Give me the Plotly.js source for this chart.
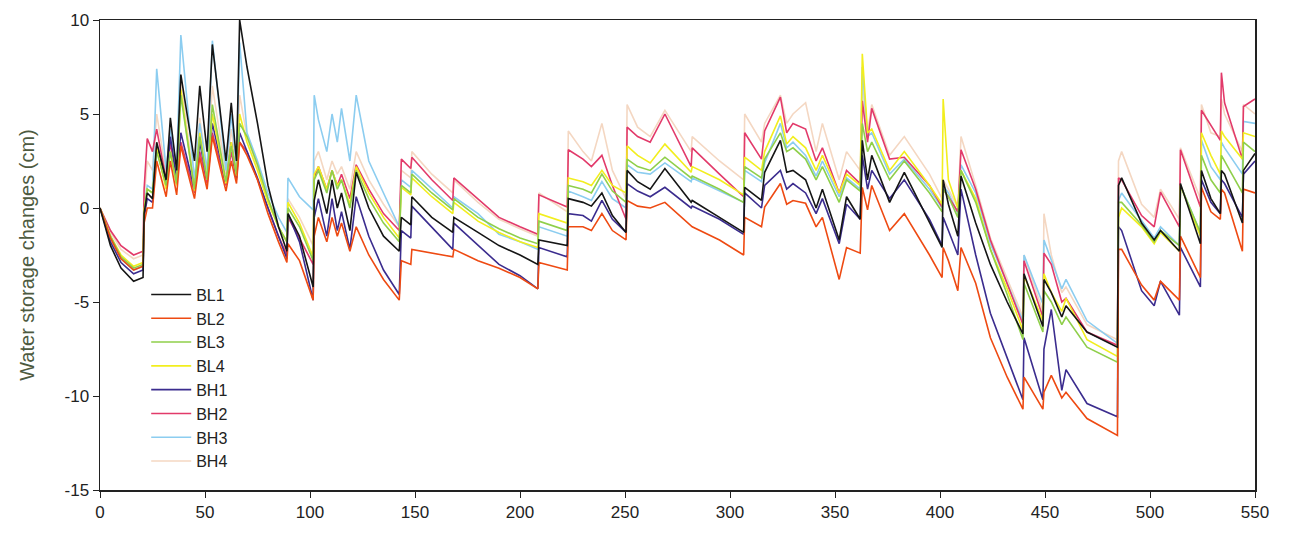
<!DOCTYPE html>
<html>
<head>
<meta charset="utf-8">
<script src="https://cdn.plot.ly/plotly-3.0.1.min.js"></script>
<style>html,body{margin:0;padding:0;background:#fff;}#chart{width:1290px;height:539px;}</style>
</head>
<body>
<div id="chart"></div>
<script>
// Day of observation
const days = [
  0, 5, 10, 16, 20.5,
  21, 22.5, 25, 27, 31.5, 33.5, 36.5, 38.5, 45, 47.5, 51, 53.5, 60, 62.5, 65, 66.5, 70, 75, 80, 85, 89,
  89.5, 95, 101.5, 102, 104, 108, 110.5, 113, 115, 119, 122, 128, 135, 142.5,
  143.5, 148, 148.5, 158, 168, 168.5, 180, 190, 200, 208.5,
  209, 222.5, 223, 230, 234, 239, 244, 250.5, 251, 256, 262, 269, 281.5, 282, 295, 306.5,
  307, 315, 316.5, 324, 327, 330, 336, 341, 344, 352, 355.5, 362, 363, 365.5, 367.5, 376, 383, 395, 401, 401.5,
  404, 408.5, 410, 417, 424, 432, 439.5, 440, 449, 449.5, 453, 458, 460, 470, 484.5,
  485, 486.5, 496, 502, 505, 514, 514.5, 524, 524.5, 529, 533.5, 534, 535.5, 544, 544.5, 550
];

// Water storage changes (cm)
const BL1 = [
  0, -2.0, -3.2, -3.9, -3.7,
  -0.3, 0.8, 0.5, 3.5, 1.5, 4.8, 2.0, 7.1, 2.5, 6.5, 3.0, 8.7, 2.5, 5.6, 2.5, 10.0, 7.5, 4.5, 1.2, -1.0, -2.3,
  -0.3, -1.5, -4.2, 0.4, 1.5, -0.3, 1.5, 0.0, 0.8, -1.2, 1.9, 0.0, -1.5, -2.3,
  -0.5, -0.9, 0.6, -0.5, -1.3, -0.5, -1.3, -2.0, -2.5, -3.0,
  -1.7, -2.0, 0.5, 0.3, 0.1, 0.8, -0.4, -1.3, 2.0, 1.4, 1.0, 2.1, 0.3, 0.4, -0.5, -1.3,
  1.1, 0.4, 1.9, 3.6, 1.9, 2.0, 1.5, 0.0, 1.0, -1.7, 0.6, -0.6, 3.6, 1.5, 2.8, 0.3, 1.9, -0.8, -2.1, 1.5,
  0.2, -1.5, 1.7, -0.8, -3.0, -5.0, -6.7, -3.5, -6.3, -3.8, -4.5, -5.8, -5.2, -6.6, -7.4,
  1.2, 1.6, -0.8, -1.7, -1.2, -2.3, 1.3, -1.9, 2.0, 0.5, -0.3, 2.0, 1.8, -0.8, 2.0, 2.9
];
const BL2 = [
  0, -1.6, -2.7, -3.3, -3.1,
  -0.8, 0.0, 0.0, 2.5, 0.6, 2.5, 0.7, 3.3, 0.5, 2.7, 1.0, 3.8, 0.9, 2.5, 1.3, 3.5, 2.8, 1.5, -0.3, -1.8, -2.9,
  -1.9, -2.8, -4.9, -1.5, -0.5, -1.8, -0.5, -1.5, -0.8, -2.3, -1.0, -2.5, -3.8, -4.9,
  -2.8, -3.0, -2.2, -2.4, -2.6, -2.2, -2.8, -3.2, -3.7, -4.3,
  -2.9, -3.3, -1.0, -1.0, -1.2, -0.3, -1.2, -1.7, 0.4, 0.1, 0.0, 0.3, -1.0, -1.0, -1.7, -2.5,
  -0.5, -1.0, 0.05, 1.3, 0.2, 0.4, 0.25, -1.0, -0.5, -3.8, -2.1, -2.4, 1.1, -0.1, 1.2, -1.2, -0.3, -2.5, -3.7, -2.1,
  -2.8, -4.4, -2.1, -4.0, -6.9, -9.0, -10.7, -9.0, -10.7, -9.8, -8.9, -10.1, -9.8, -11.2, -12.1,
  -2.2, -2.2, -4.1, -4.9, -3.9, -4.9, -1.5, -3.7, 1.1, -0.2, -0.6, 1.0, 0.8, -2.3, 1.0, 0.8
];
const BL3 = [
  0, -1.5, -2.6, -3.2, -3.0,
  -0.2, 1.0, 0.8, 3.0, 1.2, 3.0, 1.3, 6.0, 1.0, 3.8, 1.5, 5.5, 1.4, 3.3, 1.8, 4.5, 3.8, 2.3, 0.5, -1.0, -1.8,
  0.0, -1.0, -2.8, 1.5, 2.0, 0.8, 2.0, 1.0, 1.5, 0.0, 2.0, 0.5, -0.8, -1.8,
  1.2, 0.8, 1.8, 0.8, -0.1, 0.5, -0.5, -1.1, -1.6, -1.9,
  -0.7, -1.2, 1.2, 1.0, 0.8, 1.8, 0.9, 0.3, 2.6, 2.2, 2.0, 2.7, 1.6, 1.7, 1.0, 0.3,
  2.2, 1.6, 2.6, 4.0, 3.0, 3.2, 2.6, 1.5, 2.2, 0.3, 1.5, 0.9, 4.5, 3.0, 3.5, 1.5, 2.5, 0.8, -0.2, 1.0,
  0.6, -0.5, 2.0, 0.3, -2.2, -4.6, -7.0, -4.0, -6.6, -4.4, -5.0, -6.2, -5.8, -7.4, -8.2,
  0.3, 0.3, -0.9, -1.8, -1.2, -2.0, 1.2, -1.3, 2.8, 1.5, 0.8, 2.8, 2.5, 0.8, 3.5, 3.0
];
const BL4 = [
  0, -1.5, -2.5, -3.1, -2.9,
  -0.1, 1.0, 0.8, 3.2, 1.0, 3.0, 1.2, 6.3, 0.9, 4.0, 1.5, 5.0, 1.3, 3.5, 1.7, 5.0, 3.5, 2.0, 0.3, -1.0, -1.8,
  0.3, -0.8, -2.6, 1.8, 2.2, 1.0, 2.0, 1.2, 1.5, 0.2, 2.2, 0.8, -0.5, -1.6,
  1.1, 0.7, 1.6, 0.6, -0.3, 0.3, -0.7, -1.3, -1.8, -2.1,
  -0.3, -0.8, 1.6, 1.4, 1.2, 2.0, 1.2, 0.8, 3.3, 2.8, 2.4, 3.4, 1.9, 2.2, 1.5, 0.7,
  2.7, 2.0, 3.0, 4.9, 3.4, 3.8, 3.2, 2.0, 2.8, 0.8, 1.8, 1.2, 8.2, 4.0, 4.2, 2.0, 3.0, 1.2, 0.2, 5.8,
  1.5, 0.0, 2.0, 0.5, -2.2, -4.3, -6.5, -3.6, -6.0, -3.5, -4.5, -5.5, -4.8, -7.0, -7.9,
  -0.5, 0.0, -1.0, -1.9, -1.3, -2.3, 1.2, -1.5, 4.0, 2.8, 1.8, 4.1, 3.8, 2.6, 4.0, 3.8
];
const BH1 = [
  0, -1.8, -2.9, -3.5, -3.3,
  -0.5, 0.5, 0.3, 3.3, 1.4, 3.8, 1.5, 4.0, 1.0, 3.5, 1.5, 4.5, 1.3, 3.5, 1.6, 4.0, 3.0, 1.6, 0.0, -1.5, -2.7,
  -0.3, -1.8, -4.9, -0.5, 0.5, -1.5, 0.5, -1.2, -0.2, -2.2, 0.6, -1.5, -3.3, -4.6,
  -1.2, -1.6, 0.1, -1.0, -2.2, -0.8, -2.0, -3.0, -3.6, -4.3,
  -2.1, -2.6, -0.3, -0.4, -0.7, 0.4, -0.6, -1.3, 1.3, 0.9, 0.6, 1.1, 0.0, 0.1, -0.6, -1.4,
  0.8, 0.0, 1.2, 2.0, 1.0, 1.3, 0.8, -0.3, 0.5, -1.9, 0.2, -0.6, 2.8, 1.0, 2.0, 0.5, 1.5, -0.6, -2.0, -0.5,
  -1.2, -2.5, 1.0, -2.5, -5.6, -8.0, -10.2, -6.9, -10.2, -7.5, -5.4, -9.7, -8.6, -10.4, -11.1,
  -1.0, -1.2, -4.4, -5.2, -3.9, -5.7, -2.1, -4.2, 1.5, 0.3, -0.3, 1.5, 1.3, -0.5, 1.8, 2.5
];
const BH2 = [
  0, -1.2, -2.0, -2.5, -2.3,
  1.0, 3.7, 3.0, 4.2, 1.5, 3.5, 1.3, 3.5, 0.8, 3.0, 1.3, 4.0, 1.2, 3.0, 1.5, 3.5, 3.0, 1.5, 0.0, -1.5, -2.5,
  -0.5, -1.6, -3.0, 1.6, 2.2, 1.0, 2.0, 1.2, 1.8, 0.5, 2.3, 1.0, -0.3, -1.2,
  2.6, 2.1, 2.7, 1.5, 0.4, 1.6, 0.5, -0.5, -1.0, -1.4,
  0.7, 0.05, 3.1, 2.6, 2.2, 2.8, 1.2, -0.6, 4.3, 3.8, 3.5, 5.0, 2.2, 3.2, 1.8, 0.6,
  4.0, 2.6, 4.1, 5.9, 4.0, 4.5, 4.2, 2.5, 3.2, 0.8, 2.0, 1.3, 5.7, 3.5, 5.3, 2.6, 2.7, 1.2, 0.05, 1.0,
  0.6, -0.2, 3.1, 1.0, -1.7, -4.0, -6.2, -2.8, -5.8, -2.4, -3.0, -5.0, -4.8, -6.6, -7.3,
  1.6, 1.5, -0.4, -1.0, 0.85, -1.0, 3.1, 0.05, 5.2, 4.4, 3.6, 7.2, 5.6, 2.6, 5.4, 5.8
];
const BH3 = [
  0, -1.6, -2.7, -3.3, -3.1,
  0.0, 1.2, 1.0, 7.4, 2.0, 4.2, 2.2, 9.2, 1.5, 4.5, 2.0, 8.9, 2.0, 5.0, 2.2, 8.8, 4.0, 2.5, 0.8, -0.5, -1.3,
  1.6, 0.6, -0.1, 6.0, 4.7, 3.0, 5.0, 3.5, 5.3, 2.5, 6.0, 2.5, 0.8, -1.0,
  1.5, 1.1, 2.0, 1.0, 0.0, 0.6, -0.3, -1.4, -1.8, -2.2,
  -1.0, -1.5, 0.9, 0.6, 0.4, 1.4, 0.5, 0.0, 2.3, 1.9, 1.8, 2.4, 1.4, 1.6, 0.9, 0.3,
  2.0, 1.4, 2.4, 4.5, 3.2, 3.5, 2.8, 1.7, 2.5, 0.6, 1.6, 1.0, 7.5, 3.8, 4.0, 1.8, 2.6, 1.0, 0.0, 1.2,
  0.8, -0.3, 2.3, 0.8, -1.9, -4.0, -6.0, -2.5, -5.1, -1.7, -2.8, -4.3, -3.8, -6.0, -7.2,
  0.4, 0.8, -0.7, -1.6, -1.0, -2.0, 1.2, -1.3, 3.6, 2.2, 1.5, 3.5, 3.2, 1.8, 4.6, 4.5
];
const BH4 = [
  0, -1.3, -2.2, -2.7, -2.5,
  0.5, 2.5, 2.0, 5.0, 1.8, 4.5, 1.8, 6.8, 1.2, 4.8, 2.0, 6.5, 1.8, 4.2, 2.0, 6.0, 3.8, 2.2, 0.5, -1.0, -1.8,
  0.5, -0.5, -2.0, 2.5, 3.0, 1.5, 2.5, 1.8, 2.2, 1.0, 3.0, 1.5, 0.2, -1.0,
  2.0, 1.6, 3.0, 1.8, 0.8, 1.5, 0.3, -0.6, -1.1, -1.5,
  0.8, -0.2, 4.1, 3.0, 2.5, 4.5, 2.0, 0.5, 5.5, 4.3, 3.8, 5.2, 3.0, 3.8, 2.5, 1.5,
  5.0, 3.5, 4.5, 6.0, 4.5, 5.0, 5.6, 3.0, 4.5, 1.5, 3.0, 2.0, 6.5, 4.0, 5.5, 2.8, 3.8, 1.8, 0.5, 1.5,
  1.0, 0.0, 3.8, 1.2, -1.6, -3.8, -5.8, -2.5, -5.5, -0.3, -2.5, -4.5, -4.2, -6.2, -7.0,
  2.5, 3.0, 0.2, -0.5, 1.0, -0.6, 3.2, 0.5, 5.5, 4.0, 3.8, 5.8, 5.0, 3.0, 5.5, 5.0
];

const seriesNames = ['BL1', 'BL2', 'BL3', 'BL4', 'BH1', 'BH2', 'BH3', 'BH4'];
const seriesValues = [BL1, BL2, BL3, BL4, BH1, BH2, BH3, BH4];
const seriesColors = ['#151515', '#ee4a12', '#8fcf4a', '#f2ee1e', '#3b2c8e', '#e23a6a', '#8ccdf0', '#f4d7c2'];

// Tick labels (plain hyphen-minus as in the original)
const xTickVals = [0, 50, 100, 150, 200, 250, 300, 350, 400, 450, 500, 550];
const xTickText = ['0', '50', '100', '150', '200', '250', '300', '350', '400', '450', '500', '550'];
const yTickVals = [-15, -10, -5, 0, 5, 10];
const yTickText = ['-15', '-10', '-5', '0', '5', '10'];

const traces = [];
for (let i = seriesNames.length - 1; i >= 0; i--) {
  traces.push({
    type: 'scatter', mode: 'lines',
    name: seriesNames[i], x: days, y: seriesValues[i],
    line: {color: seriesColors[i], width: 1.6}
  });
}

const layout = {
  width: 1290, height: 539,
  margin: {l: 100, r: 35, t: 20, b: 49},
  paper_bgcolor: '#ffffff', plot_bgcolor: '#ffffff',
  font: {family: 'Liberation Sans, Arial, sans-serif', size: 16, color: '#222'},
  showlegend: true,
  legend: {
    x: 0.04, y: 0.452, xanchor: 'left', yanchor: 'top',
    traceorder: 'reversed', bgcolor: 'rgba(0,0,0,0)',
    font: {size: 16, color: '#222'}, itemwidth: 40, tracegroupgap: 0
  },
  xaxis: {
    range: [0, 550], tickmode: 'array', tickvals: xTickVals, ticktext: xTickText,
    showgrid: false, zeroline: false,
    showline: true, mirror: true, linecolor: '#222', linewidth: 1.5,
    ticks: 'outside', ticklen: 6, tickcolor: '#222',
    tickfont: {family: 'Liberation Sans Narrow, Arial Narrow, Liberation Sans, sans-serif', size: 17, color: '#222'}
  },
  yaxis: {
    range: [-15, 10], tickmode: 'array', tickvals: yTickVals, ticktext: yTickText,
    showgrid: false, zeroline: false,
    showline: true, mirror: true, linecolor: '#222', linewidth: 1.5,
    ticks: 'outside', ticklen: 6, tickcolor: '#222',
    tickfont: {size: 17, color: '#222'},
    title: {text: 'Water storage changes (cm)', font: {size: 20, color: '#4d5a40'}, standoff: 24}
  }
};

Plotly.newPlot('chart', traces, layout, {staticPlot: true, displayModeBar: false});
</script>
</body>
</html>
